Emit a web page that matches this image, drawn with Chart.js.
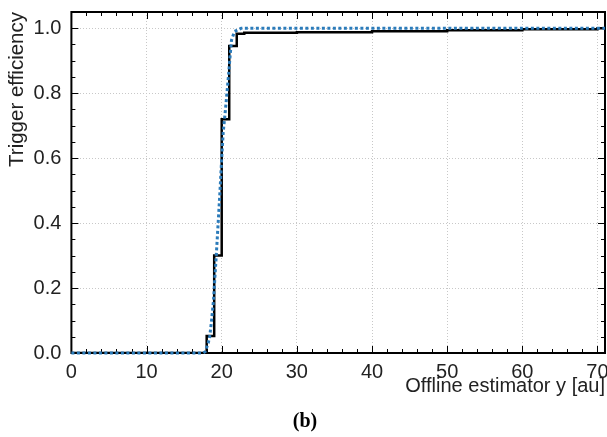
<!DOCTYPE html>
<html>
<head>
<meta charset="utf-8">
<script src="https://cdn.jsdelivr.net/npm/chart.js@4"></script>
<style>
  body { margin: 0; background: #fff; }
  #wrap { width: 607px; height: 437px; }
</style>
</head>
<body>
<div id="wrap"><canvas id="chart"></canvas></div>
<script>
// measured trigger efficiency, histogram bins (left edges)
const binEdges = [0, 18, 19, 20, 21, 22, 23, 30, 40, 50, 60, 70, 71];
const binEff = [0, 0.052, 0.30, 0.72, 0.945, 0.983, 0.986, 0.988, 0.991, 0.994, 0.997, 1.0, 1.0];

// fitted turn-on curve (dotted)
const fitX = [0, 17.5, 17.8, 18.2, 18.4, 18.65, 18.9, 19.1, 19.3, 19.5, 19.75, 20.0, 20.2, 20.5, 20.85, 21.1, 21.3, 21.7, 22.6, 71];
const fitY = [0, 0, 0.004, 0.03, 0.05, 0.10, 0.16, 0.235, 0.31, 0.39, 0.49, 0.60, 0.68, 0.75, 0.84, 0.91, 0.963, 0.99, 1.0, 1.0];

const xTitle = 'Offline estimator y [au]';
const yTitle = 'Trigger efficiency';
const panelLabel = '(b)';

const FONT = "'Liberation Sans', Arial, sans-serif";

const ctx = document.getElementById('chart').getContext('2d');

// frame with inward major/minor ticks on all four sides
const frameTicks = {
  id: 'frameTicks',
  beforeDatasetsDraw(chart) {
    const { ctx, chartArea: a, scales: { x, y } } = chart;
    ctx.save();
    ctx.strokeStyle = '#000';
    ctx.lineWidth = 1;
    ctx.beginPath();
    for (let v = 0; v <= x.max; v += 2) {
      const px = Math.round(x.getPixelForValue(v)) + 0.5;
      const len = v % 10 === 0 ? 7 : 4;
      ctx.moveTo(px, a.bottom); ctx.lineTo(px, a.bottom - len);
      ctx.moveTo(px, a.top); ctx.lineTo(px, a.top + len);
    }
    for (let i = 0; i * 0.05 <= y.max; i++) {
      const py = Math.round(y.getPixelForValue(i * 0.05)) + 0.5;
      const len = i % 4 === 0 ? 7 : 4;
      ctx.moveTo(a.left, py); ctx.lineTo(a.left + len, py);
      ctx.moveTo(a.right, py); ctx.lineTo(a.right - len, py);
    }
    ctx.stroke();
    ctx.lineWidth = 2;
    ctx.strokeRect(a.left, a.top, a.right - a.left, a.bottom - a.top);
    ctx.restore();
  }
};

const chart = new Chart(ctx, {
  type: 'scatter',
  data: {
    datasets: [{
      label: 'fit',
      data: fitX.map((v, i) => ({ x: v, y: fitY[i] })),
      showLine: true,
      borderColor: '#2b7bba',
      borderWidth: 3,
      borderDash: [3, 2.5],
      pointRadius: 0,
      clip: false,
      order: 0
    }, {
      label: 'measured',
      data: binEdges.map((v, i) => ({ x: v, y: binEff[i] })),
      showLine: true,
      stepped: 'before',
      borderColor: '#000',
      borderWidth: 2.5,
      pointRadius: 0,
      order: 1
    }]
  },
  options: {
    responsive: true,
    maintainAspectRatio: false,
    animation: false,
    layout: {
      padding: { left: 5, right: 2, top: 12, bottom: 0 }
    },
    scales: {
      x: {
        type: 'linear',
        min: 0,
        max: 71,
        afterFit: s => { s.paddingLeft = 0; s.paddingRight = 0; },
        ticks: {
          stepSize: 10,
          includeBounds: false,
          padding: 7,
          color: '#222',
          font: { family: FONT, size: 20 }
        },
        grid: { color: '#c8c8c8', lineWidth: 1, drawTicks: false },
        border: { display: false, dash: [1, 2] },
        title: {
          display: true,
          text: xTitle,
          align: 'end',
          color: '#222',
          font: { family: FONT, size: 20 },
          padding: { top: -16.5, bottom: -16.5 }
        }
      },
      y: {
        min: 0,
        max: 1.05,
        afterFit: s => { s.paddingTop = 0; s.paddingBottom = 0; },
        ticks: {
          stepSize: 0.2,
          includeBounds: false,
          padding: 10,
          color: '#222',
          font: { family: FONT, size: 20 },
          callback: v => v.toFixed(1)
        },
        grid: { color: '#c8c8c8', lineWidth: 1, drawTicks: false },
        border: { display: false, dash: [1, 2] },
        title: {
          display: true,
          text: yTitle,
          align: 'end',
          color: '#222',
          font: { family: FONT, size: 20.5 },
          padding: { top: 0, bottom: -6 }
        }
      }
    },
    plugins: {
      legend: { display: false },
      tooltip: { enabled: false },
      title: {
        display: true,
        text: panelLabel,
        position: 'bottom',
        color: '#000',
        font: { family: "'Liberation Serif', 'Times New Roman', serif", size: 20, weight: 'bold' },
        padding: { top: 28, bottom: 3 }
      }
    }
  },
  plugins: [frameTicks]
});
</script>
</body>
</html>
